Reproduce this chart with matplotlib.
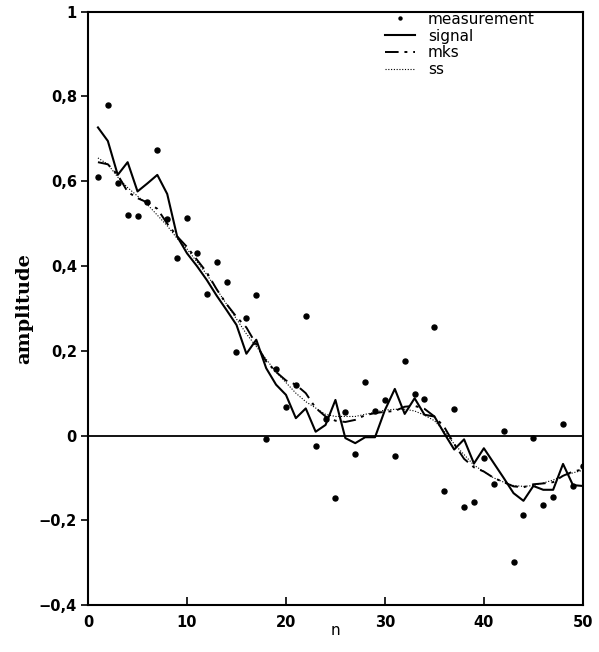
import matplotlib.pyplot as plt
import numpy as np
from matplotlib.ticker import FuncFormatter

# отсчёты
n = np.arange(1, 51)

measurement = [0.61, 0.78, 0.595, 0.52, 0.517, 0.55, 0.673, 0.51, 0.42, 0.513,
               0.43, 0.333, 0.41, 0.362, 0.198, 0.277, 0.332, -0.009, 0.157, 0.068,
               0.12, 0.283, -0.024, 0.04, -0.147, 0.055, -0.044, 0.126, 0.058, 0.084,
               -0.048, 0.176, 0.098, 0.086, 0.255, -0.13, 0.062, -0.169, -0.158, -0.054,
               -0.115, 0.011, -0.299, -0.188, -0.005, -0.164, -0.144, 0.027, -0.119, -0.073]

signal = [0.727, 0.695, 0.615, 0.645, 0.576, 0.595, 0.615, 0.57, 0.47, 0.43,
          0.40, 0.367, 0.33, 0.296, 0.261, 0.193, 0.226, 0.159, 0.12, 0.096,
          0.041, 0.064, 0.009, 0.025, 0.084, -0.006, -0.018, -0.004, -0.004, 0.06,
          0.11, 0.051, 0.088, 0.049, 0.045, 0.005, -0.033, -0.009, -0.066, -0.03,
          -0.065, -0.1, -0.136, -0.154, -0.119, -0.128, -0.128, -0.067, -0.117, -0.119]

mks = [0.645, 0.64, 0.615, 0.575, 0.56, 0.55, 0.535, 0.50, 0.47, 0.445,
       0.415, 0.385, 0.345, 0.31, 0.28, 0.255, 0.215, 0.175, 0.15, 0.13,
       0.12, 0.10, 0.065, 0.045, 0.035, 0.032, 0.037, 0.048, 0.053, 0.056,
       0.058, 0.068, 0.07, 0.063, 0.045, 0.02, -0.02, -0.055, -0.075, -0.085,
       -0.1, -0.11, -0.12, -0.122, -0.115, -0.113, -0.11, -0.095, -0.085, -0.08]

ss = [0.655, 0.64, 0.61, 0.585, 0.565, 0.545, 0.52, 0.495, 0.465, 0.44,
      0.41, 0.38, 0.345, 0.31, 0.275, 0.24, 0.21, 0.18, 0.15, 0.125,
      0.1, 0.08, 0.065, 0.05, 0.045, 0.045, 0.045, 0.05, 0.055, 0.06,
      0.062, 0.062, 0.058, 0.048, 0.035, 0.01, -0.02, -0.045, -0.07, -0.085,
      -0.1, -0.11, -0.118, -0.12, -0.118, -0.112, -0.105, -0.095, -0.088, -0.082]

fig = plt.figure(figsize=(5.99, 6.52), dpi=100)
ax = fig.add_axes([0.147, 0.072, 0.826, 0.91])

ax.axhline(0, color='black', lw=1.3, zorder=1)

ax.plot(n, measurement, 'o', color='black', ms=3.6, label='measurement')
ax.plot(n, signal, color='black', lw=1.5, label='signal')
ax.plot(n, mks, color='black', lw=1.4, dashes=(7, 3, 1.5, 3), label='mks')
ax.plot(n, ss, color='black', lw=0.8, ls=(0, (1, 1.5)), label='ss')

ax.set_xlim(0, 50)
ax.set_ylim(-0.4, 1)
ax.set_xticks([0, 10, 20, 30, 40, 50])
ax.set_yticks(np.arange(-0.4, 1.01, 0.2))


def fmt(v, pos):
    if abs(v) < 1e-9:
        return '0'
    if abs(v - 1) < 1e-9:
        return '1'
    return f'{v:.1f}'.replace('.', ',').replace('-', '\u2212')


ax.yaxis.set_major_formatter(FuncFormatter(fmt))
ax.tick_params(axis='x', direction='in', length=6, width=1.2, pad=7)
ax.tick_params(axis='y', direction='out', length=5, width=1.2, pad=3)
for lbl in ax.get_xticklabels() + ax.get_yticklabels():
    lbl.set_fontweight('bold')
    lbl.set_fontsize(10.5)
for sp in ax.spines.values():
    sp.set_linewidth(1.5)

ax.set_xlabel('n', fontsize=11, labelpad=-5)
ax.set_ylabel('amplitude', fontsize=14, fontweight='bold', family='DejaVu Serif', labelpad=4)

leg = ax.legend(loc='upper left', bbox_to_anchor=(0.60, 1.0), frameon=False, fontsize=11,
                handlelength=2.0, handletextpad=0.8, labelspacing=0.12, borderpad=0,
                borderaxespad=0, markerscale=0.6)

fig.savefig('out.png', dpi=100)
